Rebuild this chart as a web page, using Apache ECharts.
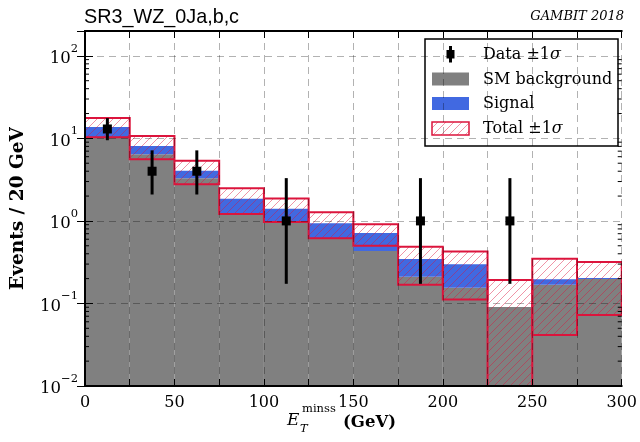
<!DOCTYPE html>
<html><head><meta charset="utf-8">
<script src="https://cdn.jsdelivr.net/npm/echarts@6/dist/echarts.min.js"></script>
<style>html,body{margin:0;padding:0;background:#fff}#c{width:640px;height:442px}</style>
</head><body><div id="c"></div>
<script>
// ---- data ----
const binEdges     = [0, 25, 50, 75, 100, 125, 150, 175, 200, 225, 250, 275, 300];
const smBackground = [10.3, 6.43, 3.29, 1.21, 0.98, 0.617, 0.433, 0.211, 0.155, 0.0907, 0.168, 0.198];
const signal       = [3.4, 1.67, 0.75, 0.64, 0.42, 0.32, 0.28, 0.135, 0.144, 0.0, 0.028, 0.006];
const totalUp      = [17.6, 10.7, 5.34, 2.49, 1.87, 1.27, 0.912, 0.488, 0.425, 0.193, 0.349, 0.318];
const totalLow     = [10.3, 5.6, 2.78, 1.21, 0.97, 0.617, 0.502, 0.168, 0.112, 0, 0.0415, 0.0726];
const dataCounts   = [13, 4, 4, 0, 1, 0, 0, 1, 0, 1, 0, 0];
const dataErrLow   = [9.5, 2.09, 2.09, 0, 0.173, 0, 0, 0.173, 0, 0.173, 0, 0];
const dataErrHigh  = [17.6, 7.16, 7.16, 0, 3.30, 0, 0, 3.30, 0, 3.30, 0, 0];
const xTickLabels  = [0, 50, 100, 150, 200, 250, 300];
const yTickExponents = [-2, -1, 0, 1, 2];
const legendLabels = ['Data ±1', 'SM background', 'Signal', 'Total ±1'];

const Y_MIN = 0.01, Y_MAX = 200, X_MIN = 0, X_MAX = 300;
const GRAY = '#808080', BLUE = '#4169E1', RED = '#DC143C';
const SERIF = 'DejaVu Serif';

function hatchCanvas() {
  const s = 8, c = document.createElement('canvas');
  c.width = s; c.height = s;
  const g = c.getContext('2d');
  g.strokeStyle = 'rgba(220,20,60,0.45)'; g.lineWidth = 1;
  g.beginPath();
  g.moveTo(0, s); g.lineTo(s, 0);
  g.moveTo(-2, 2); g.lineTo(2, -2);
  g.moveTo(s - 2, s + 2); g.lineTo(s + 2, s - 2);
  g.stroke();
  return c;
}
const hatchImg = hatchCanvas();
const hatchFill = () => ({ image: hatchImg, repeat: 'repeat' });

const bins = smBackground.map((b, i) => i);
const bgData    = bins.map(i => [binEdges[i], binEdges[i + 1], smBackground[i]]);
const sigData   = bins.map(i => [binEdges[i], binEdges[i + 1], smBackground[i], smBackground[i] + signal[i]]);
const totData   = bins.map(i => [binEdges[i], binEdges[i + 1], totalLow[i], totalUp[i]]);
const obsData   = bins.map(i => [(binEdges[i] + binEdges[i + 1]) / 2, dataCounts[i], dataErrLow[i], dataErrHigh[i]]);

const minorTicks = [];
for (let e = -2; e <= 2; e++) for (let m = 2; m <= 9; m++) { const v = m * Math.pow(10, e); if (v < Y_MAX) minorTicks.push([v]); }

function rectBetween(api, x0, x1, ylo, yhi) {
  const p0 = api.coord([x0, Math.max(yhi, Y_MIN)]);
  const p1 = api.coord([x1, Math.max(ylo, Y_MIN)]);
  return { x: p0[0], y: p0[1], width: p1[0] - p0[0], height: p1[1] - p0[1] };
}

const axisLineStyle = { show: true, lineStyle: { color: '#000', width: 2 } };
const gridLine = { show: true, lineStyle: { color: 'rgba(0,0,0,0.3)', width: 1, type: [7, 5] } };

const chart = echarts.init(document.getElementById('c'), null, { renderer: 'canvas' });
chart.setOption({
  animation: false,
  backgroundColor: '#fff',
  grid: { left: 85, right: 14, top: 31, bottom: 56, containLabel: false },
  xAxis: [{
    type: 'value', min: X_MIN, max: X_MAX, interval: 25, position: 'bottom', z: 3,
    axisLine: axisLineStyle,
    axisTick: { show: true, inside: true, length: 7, lineStyle: { color: '#000', width: 1 } },
    axisLabel: { formatter: v => xTickLabels.indexOf(v) >= 0 ? String(v) : '', fontFamily: SERIF, fontSize: 16, color: '#000', margin: 9 },
    splitLine: gridLine
  }, {
    type: 'value', min: X_MIN, max: X_MAX, interval: 25, position: 'top', z: 3,
    axisLine: axisLineStyle,
    axisTick: { show: true, inside: true, length: 7, lineStyle: { color: '#000', width: 1 } },
    axisLabel: { show: false }, splitLine: { show: false }
  }],
  yAxis: [{
    type: 'log', logBase: 10, min: Y_MIN, max: Y_MAX, position: 'left', z: 3,
    axisLine: axisLineStyle,
    axisTick: { show: true, inside: true, length: 8, lineStyle: { color: '#000', width: 1 } },
    axisLabel: {
      margin: 7, color: '#000',
      formatter: v => {
        const e = Math.round(Math.log10(v));
        if (Math.abs(Math.log10(v) - e) > 1e-6 || yTickExponents.indexOf(e) < 0) return '';
        return '{b|10}{s|' + (e < 0 ? '\u2212' + (-e) : e) + '}';
      },
      rich: {
        b: { fontFamily: SERIF, fontSize: 16.5, color: '#000', lineHeight: 26, padding: [6, 0, 0, 0] },
        s: { fontFamily: SERIF, fontSize: 11.5, color: '#000', verticalAlign: 'top', lineHeight: 12 }
      }
    },
    splitLine: gridLine
  }, {
    type: 'log', logBase: 10, min: Y_MIN, max: Y_MAX, position: 'right', z: 3,
    axisLine: axisLineStyle,
    axisTick: { show: true, inside: true, length: 8, lineStyle: { color: '#000', width: 1 } },
    axisLabel: { show: false }, splitLine: { show: false }
  }],
  series: [{
    name: 'SM background', type: 'custom', xAxisIndex: 0, yAxisIndex: 0, z: 2, clip: true,
    data: bgData,
    renderItem: (p, api) => ({ type: 'rect', shape: rectBetween(api, api.value(0), api.value(1), Y_MIN, api.value(2)), style: { fill: GRAY } })
  }, {
    name: 'Signal', type: 'custom', xAxisIndex: 0, yAxisIndex: 0, z: 2, clip: true,
    data: sigData,
    renderItem: (p, api) => {
      if (api.value(3) <= api.value(2)) return null;
      return { type: 'rect', shape: rectBetween(api, api.value(0), api.value(1), api.value(2), api.value(3)), style: { fill: BLUE } };
    }
  }, {
    name: 'Total ±1σ', type: 'custom', xAxisIndex: 0, yAxisIndex: 0, z: 2, clip: true,
    data: totData,
    renderItem: (p, api) => {
      const sh = rectBetween(api, api.value(0), api.value(1), api.value(2), api.value(3));
      return { type: 'group', children: [
        { type: 'rect', shape: sh, style: { fill: hatchFill(), stroke: null } },
        { type: 'rect', shape: sh, style: { fill: 'none', stroke: RED, lineWidth: 2 } }
      ] };
    }
  }, {
    name: 'Data ±1σ', type: 'custom', xAxisIndex: 0, yAxisIndex: 0, z: 2, clip: true,
    data: obsData,
    renderItem: (p, api) => {
      if (api.value(1) <= 0) return null;
      const c = api.coord([api.value(0), api.value(1)]);
      const lo = api.coord([api.value(0), api.value(2)]);
      const hi = api.coord([api.value(0), api.value(3)]);
      return { type: 'group', children: [
        { type: 'line', shape: { x1: lo[0], y1: lo[1], x2: hi[0], y2: hi[1] }, style: { stroke: '#000', lineWidth: 3 } },
        { type: 'rect', shape: { x: c[0] - 4.5, y: c[1] - 4.5, width: 9, height: 9 }, style: { fill: '#000' } }
      ] };
    }
  }, {
    name: 'minor ticks', type: 'custom', xAxisIndex: 0, yAxisIndex: 0, z: 4, silent: true,
    data: minorTicks,
    renderItem: (p, api) => {
      const v = api.value(0);
      const l = api.coord([X_MIN, v]), r = api.coord([X_MAX, v]);
      return { type: 'group', children: [
        { type: 'line', shape: { x1: l[0], y1: l[1], x2: l[0] + 4, y2: l[1] }, style: { stroke: '#000', lineWidth: 1 } },
        { type: 'line', shape: { x1: r[0], y1: r[1], x2: r[0] - 4, y2: r[1] }, style: { stroke: '#000', lineWidth: 1 } }
      ] };
    }
  }],
  graphic: [
    { type: 'text', left: 84, top: 8, z: 10, style: { text: 'SR3_WZ_0Ja,b,c', fontFamily: 'Liberation Sans', fontSize: 19.8, fill: '#000' } },
    { type: 'text', right: 16, top: 10, z: 10, style: { text: 'GAMBIT 2018', fontFamily: SERIF, fontStyle: 'italic', fontSize: 13, fill: '#000' } },
    { type: 'text', x: 18, y: 208.5, rotation: Math.PI / 2, z: 10,
      style: { text: 'Events / 20 GeV', fontFamily: SERIF, fontWeight: 'bold', fontSize: 18.5, fill: '#000', align: 'center', verticalAlign: 'middle' } },
    { type: 'group', z: 10, children: [
      { type: 'text', x: 287, y: 421, style: { text: 'E', fontFamily: SERIF, fontStyle: 'italic', fontSize: 17, fill: '#000', verticalAlign: 'middle' } },
      { type: 'text', x: 302, y: 409, style: { text: 'minss', fontFamily: SERIF, fontSize: 11.5, fill: '#000', verticalAlign: 'middle' } },
      { type: 'text', x: 300, y: 429, style: { text: 'T', fontFamily: SERIF, fontStyle: 'italic', fontSize: 11.5, fill: '#000', verticalAlign: 'middle' } },
      { type: 'text', x: 343, y: 423, style: { text: '(GeV)', fontFamily: SERIF, fontWeight: 'bold', fontSize: 16.5, fill: '#000', verticalAlign: 'middle' } }
    ] },
    { type: 'group', z: 20, children: [
      { type: 'rect', shape: { x: 425, y: 39, width: 193, height: 107 }, style: { fill: '#fff', stroke: '#000', lineWidth: 1.5 } },
      { type: 'line', shape: { x1: 450.5, y1: 46, x2: 450.5, y2: 62.5 }, style: { stroke: '#000', lineWidth: 3 } },
      { type: 'rect', shape: { x: 446.5, y: 50, width: 8, height: 8.5 }, style: { fill: '#000' } },
      { type: 'rect', shape: { x: 432, y: 72.5, width: 37, height: 13 }, style: { fill: GRAY } },
      { type: 'rect', shape: { x: 432, y: 97, width: 37, height: 13 }, style: { fill: BLUE } },
      { type: 'rect', shape: { x: 432, y: 122, width: 37, height: 13 }, style: { fill: hatchFill(), stroke: RED, lineWidth: 1.5 } },
      { type: 'text', x: 483, y: 55, style: { text: '{n|' + legendLabels[0] + '}{i|σ}', verticalAlign: 'middle', rich: { n: { fontFamily: SERIF, fontSize: 16, fill: '#000' }, i: { fontFamily: SERIF, fontStyle: 'italic', fontSize: 16, fill: '#000' } } } },
      { type: 'text', x: 483, y: 79.5, style: { text: legendLabels[1], fontFamily: SERIF, fontSize: 16, fill: '#000', verticalAlign: 'middle' } },
      { type: 'text', x: 483, y: 104, style: { text: legendLabels[2], fontFamily: SERIF, fontSize: 16, fill: '#000', verticalAlign: 'middle' } },
      { type: 'text', x: 483, y: 129, style: { text: '{n|' + legendLabels[3] + '}{i|σ}', verticalAlign: 'middle', rich: { n: { fontFamily: SERIF, fontSize: 16, fill: '#000' }, i: { fontFamily: SERIF, fontStyle: 'italic', fontSize: 16, fill: '#000' } } } }
    ] }
  ]
});
</script></body></html>
